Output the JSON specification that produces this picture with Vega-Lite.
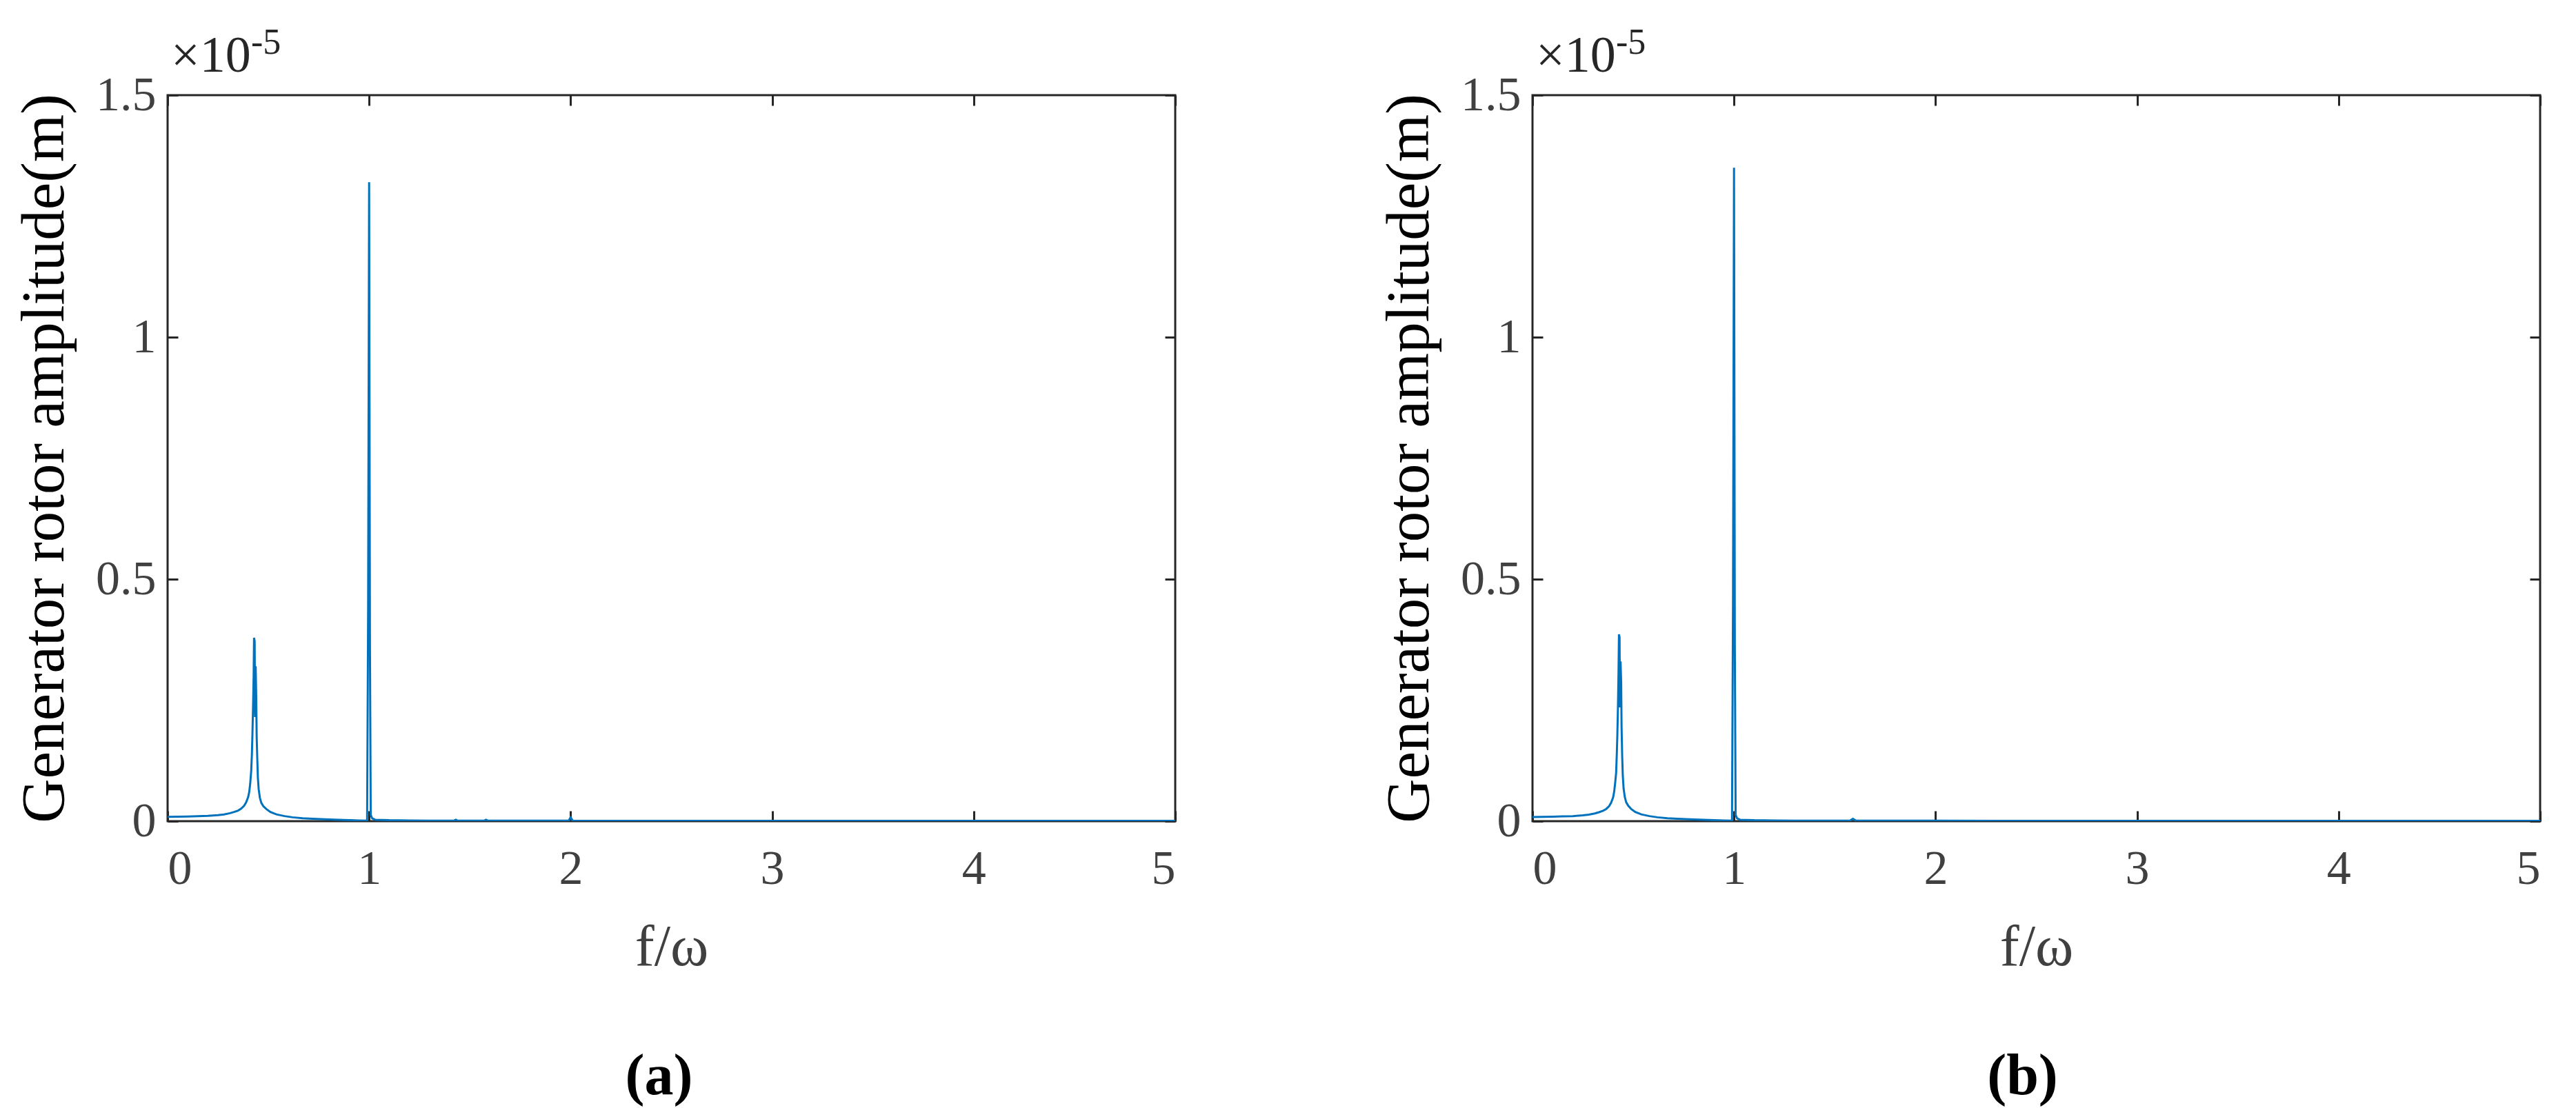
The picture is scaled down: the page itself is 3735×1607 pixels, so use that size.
{
  "$schema": "https://vega.github.io/schema/vega-lite/v6.json",
  "padding": {"left": 18, "top": 34, "right": 0, "bottom": 0},
  "background": "white",
  "datasets": {
    "a": [
      {"f":0,"amp":0.009},{"f":0.05,"amp":0.0092},{"f":0.1,"amp":0.0096},{"f":0.15,"amp":0.0102},{"f":0.2,"amp":0.011},{"f":0.25,"amp":0.0125},{"f":0.28,"amp":0.014},{"f":0.31,"amp":0.0165},{"f":0.33,"amp":0.019},{"f":0.35,"amp":0.022},{"f":0.365,"amp":0.026},{"f":0.38,"amp":0.032},{"f":0.39,"amp":0.039},{"f":0.4,"amp":0.05},{"f":0.405,"amp":0.06},{"f":0.41,"amp":0.078},{"f":0.415,"amp":0.105},{"f":0.418,"amp":0.135},{"f":0.421,"amp":0.18},{"f":0.424,"amp":0.235},{"f":0.427,"amp":0.3},{"f":0.429,"amp":0.379},{"f":0.432,"amp":0.372},{"f":0.434,"amp":0.215},{"f":0.437,"amp":0.32},{"f":0.44,"amp":0.25},{"f":0.442,"amp":0.175},{"f":0.445,"amp":0.13},{"f":0.448,"amp":0.09},{"f":0.452,"amp":0.066},{"f":0.458,"amp":0.048},{"f":0.465,"amp":0.038},{"f":0.475,"amp":0.031},{"f":0.49,"amp":0.025},{"f":0.51,"amp":0.019},{"f":0.54,"amp":0.014},{"f":0.58,"amp":0.0105},{"f":0.62,"amp":0.008},{"f":0.67,"amp":0.006},{"f":0.72,"amp":0.005},{"f":0.78,"amp":0.004},{"f":0.85,"amp":0.003},{"f":0.9,"amp":0.0022},{"f":0.95,"amp":0.0015},{"f":0.99,"amp":0.001},{"f":0.995,"amp":0.43},{"f":1.0,"amp":1.32},{"f":1.004,"amp":0.37},{"f":1.008,"amp":0.013},{"f":1.015,"amp":0.006},{"f":1.03,"amp":0.003},{"f":1.1,"amp":0.002},{"f":1.2,"amp":0.0015},{"f":1.3,"amp":0.0012},{"f":1.42,"amp":0.001},{"f":1.43,"amp":0.003},{"f":1.44,"amp":0.001},{"f":1.57,"amp":0.001},{"f":1.58,"amp":0.003},{"f":1.59,"amp":0.001},{"f":1.8,"amp":0.0009},{"f":1.99,"amp":0.0009},{"f":2.0,"amp":0.008},{"f":2.01,"amp":0.0009},{"f":2.3,"amp":0.0008},{"f":2.6,"amp":0.0008},{"f":3.0,"amp":0.0007},{"f":3.5,"amp":0.0007},{"f":4.0,"amp":0.0006},{"f":4.5,"amp":0.0006},{"f":5.0,"amp":0.0006}
    ],
    "b": [
      {"f":0,"amp":0.0085},{"f":0.05,"amp":0.0088},{"f":0.1,"amp":0.0092},{"f":0.15,"amp":0.0098},{"f":0.2,"amp":0.0105},{"f":0.25,"amp":0.012},{"f":0.28,"amp":0.0135},{"f":0.31,"amp":0.016},{"f":0.33,"amp":0.0185},{"f":0.35,"amp":0.0215},{"f":0.365,"amp":0.025},{"f":0.38,"amp":0.031},{"f":0.39,"amp":0.038},{"f":0.4,"amp":0.049},{"f":0.405,"amp":0.06},{"f":0.41,"amp":0.078},{"f":0.415,"amp":0.1},{"f":0.418,"amp":0.135},{"f":0.421,"amp":0.177},{"f":0.424,"amp":0.235},{"f":0.427,"amp":0.31},{"f":0.429,"amp":0.386},{"f":0.432,"amp":0.38},{"f":0.434,"amp":0.235},{"f":0.437,"amp":0.33},{"f":0.44,"amp":0.287},{"f":0.442,"amp":0.196},{"f":0.445,"amp":0.135},{"f":0.448,"amp":0.095},{"f":0.452,"amp":0.068},{"f":0.458,"amp":0.05},{"f":0.465,"amp":0.039},{"f":0.475,"amp":0.032},{"f":0.49,"amp":0.025},{"f":0.51,"amp":0.019},{"f":0.54,"amp":0.014},{"f":0.58,"amp":0.0105},{"f":0.62,"amp":0.008},{"f":0.67,"amp":0.006},{"f":0.72,"amp":0.005},{"f":0.78,"amp":0.004},{"f":0.85,"amp":0.003},{"f":0.9,"amp":0.0022},{"f":0.95,"amp":0.0015},{"f":0.99,"amp":0.001},{"f":0.995,"amp":0.453},{"f":1.0,"amp":1.35},{"f":1.004,"amp":0.362},{"f":1.008,"amp":0.013},{"f":1.015,"amp":0.006},{"f":1.03,"amp":0.003},{"f":1.1,"amp":0.002},{"f":1.2,"amp":0.0015},{"f":1.3,"amp":0.0012},{"f":1.5,"amp":0.001},{"f":1.575,"amp":0.001},{"f":1.59,"amp":0.005},{"f":1.605,"amp":0.001},{"f":1.8,"amp":0.0009},{"f":2.0,"amp":0.0009},{"f":2.3,"amp":0.0008},{"f":2.6,"amp":0.0008},{"f":3.0,"amp":0.0007},{"f":3.5,"amp":0.0007},{"f":4.0,"amp":0.0006},{"f":4.5,"amp":0.0006},{"f":5.0,"amp":0.0006}
    ],
    "exp": [{"t": "×10"}],
    "sup": [{"t": "-5"}]
  },
  "config": {
    "view": {"stroke": "#262626", "strokeWidth": 3},
    "axis": {
      "domain": false,
      "grid": false,
      "labelFont": "Liberation Serif",
      "labelFontSize": 70,
      "labelColor": "#404040",
      "titleFont": "Liberation Serif",
      "tickColor": "#262626",
      "tickWidth": 3,
      "tickSize": -15
    }
  },
  "spacing": 290,
  "hconcat": [
    {
      "width": 1461,
      "height": 1053,
      "title": {"text": "(a)", "orient": "bottom", "font": "Liberation Serif", "fontSize": 84, "fontWeight": "bold", "color": "#000000", "anchor": "middle", "dx": -18, "offset": 105},
      "resolve": {"axis": {"x": "independent", "y": "independent"}},
      "layer": [
        {
          "data": {"name": "a"},
          "mark": {"type": "line", "color": "#0072BD", "strokeWidth": 3, "clip": true},
          "encoding": {
            "x": {"field": "f", "type": "quantitative", "scale": {"domain": [0, 5], "nice": false},
                  "axis": {"orient": "bottom", "values": [0,1,2,3,4,5], "labelPadding": 50, "title": "f/ω", "titleFontSize": 84, "titleFontWeight": "normal", "titleColor": "#404040", "titlePadding": 38}},
            "y": {"field": "amp", "type": "quantitative", "scale": {"domain": [0, 1.5], "nice": false, "zero": true},
                  "axis": {"orient": "left", "values": [0,0.5,1,1.5], "labelExpr": "'' + datum.value", "labelPadding": 32, "title": "Generator rotor amplitude(m)", "titleFontSize": 89, "titleFontWeight": "normal", "titleColor": "#000000", "titlePadding": 28}}
          }
        },
        {
          "data": {"name": "exp"},
          "mark": {"type": "text", "font": "Liberation Serif", "fontSize": 74, "color": "#262626", "align": "left", "baseline": "alphabetic", "dx": 5, "dy": -34},
          "encoding": {
            "x": {"datum": 0, "type": "quantitative", "axis": {"orient": "top", "values": [0,1,2,3,4,5], "labels": false, "title": null}},
            "y": {"datum": 1.5, "type": "quantitative", "axis": {"orient": "right", "values": [0,0.5,1,1.5], "labels": false, "title": null}},
            "text": {"field": "t"}
          }
        },
        {
          "data": {"name": "sup"},
          "mark": {"type": "text", "font": "Liberation Serif", "fontSize": 52, "color": "#262626", "align": "left", "baseline": "alphabetic", "dx": 121, "dy": -60},
          "encoding": {
            "x": {"datum": 0, "type": "quantitative", "axis": null},
            "y": {"datum": 1.5, "type": "quantitative", "axis": null},
            "text": {"field": "t"}
          }
        }
      ]
    },
    {
      "width": 1461,
      "height": 1053,
      "title": {"text": "(b)", "orient": "bottom", "font": "Liberation Serif", "fontSize": 84, "fontWeight": "bold", "color": "#000000", "anchor": "middle", "dx": -20, "offset": 105},
      "resolve": {"axis": {"x": "independent", "y": "independent"}},
      "layer": [
        {
          "data": {"name": "b"},
          "mark": {"type": "line", "color": "#0072BD", "strokeWidth": 3, "clip": true},
          "encoding": {
            "x": {"field": "f", "type": "quantitative", "scale": {"domain": [0, 5], "nice": false},
                  "axis": {"orient": "bottom", "values": [0,1,2,3,4,5], "labelPadding": 50, "title": "f/ω", "titleFontSize": 84, "titleFontWeight": "normal", "titleColor": "#404040", "titlePadding": 38}},
            "y": {"field": "amp", "type": "quantitative", "scale": {"domain": [0, 1.5], "nice": false, "zero": true},
                  "axis": {"orient": "left", "values": [0,0.5,1,1.5], "labelExpr": "'' + datum.value", "labelPadding": 32, "title": "Generator rotor amplitude(m)", "titleFontSize": 89, "titleFontWeight": "normal", "titleColor": "#000000", "titlePadding": 28}}
          }
        },
        {
          "data": {"name": "exp"},
          "mark": {"type": "text", "font": "Liberation Serif", "fontSize": 74, "color": "#262626", "align": "left", "baseline": "alphabetic", "dx": 5, "dy": -34},
          "encoding": {
            "x": {"datum": 0, "type": "quantitative", "axis": {"orient": "top", "values": [0,1,2,3,4,5], "labels": false, "title": null}},
            "y": {"datum": 1.5, "type": "quantitative", "axis": {"orient": "right", "values": [0,0.5,1,1.5], "labels": false, "title": null}},
            "text": {"field": "t"}
          }
        },
        {
          "data": {"name": "sup"},
          "mark": {"type": "text", "font": "Liberation Serif", "fontSize": 52, "color": "#262626", "align": "left", "baseline": "alphabetic", "dx": 121, "dy": -60},
          "encoding": {
            "x": {"datum": 0, "type": "quantitative", "axis": null},
            "y": {"datum": 1.5, "type": "quantitative", "axis": null},
            "text": {"field": "t"}
          }
        }
      ]
    }
  ]
}
